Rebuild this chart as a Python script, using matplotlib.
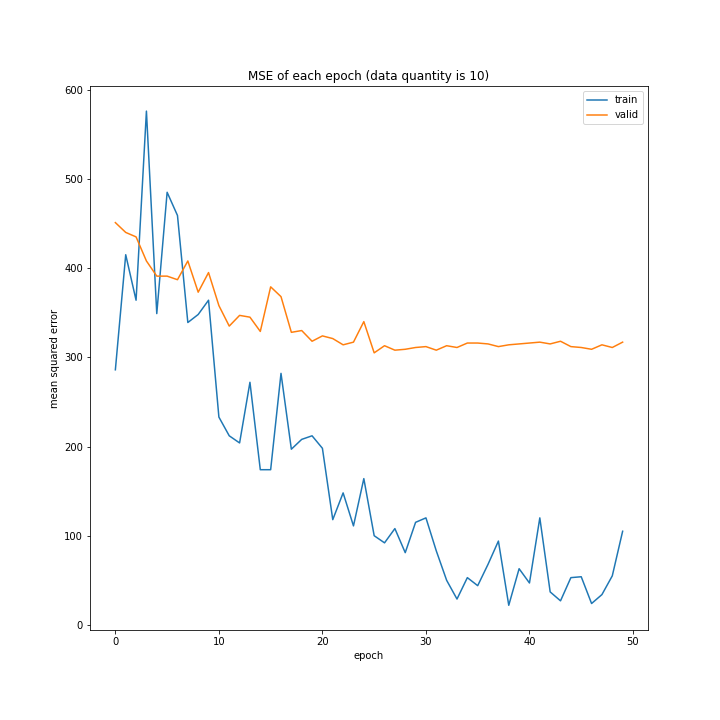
import numpy as np
import matplotlib
matplotlib.use('Agg')
import matplotlib.pyplot as plt

epochs = np.arange(50)

train_mse = [286, 415, 364, 576, 349, 485, 459, 339, 348, 364,
             233, 212, 204, 272, 174, 174, 282, 197, 208, 212,
             198, 118, 148, 111, 164, 100, 92, 108, 81, 115,
             120, 83, 50, 29, 53, 44, 68, 94, 22, 63,
             47, 120, 37, 27, 53, 54, 24, 34, 55, 105]

valid_mse = [451, 440, 435, 408, 391, 391, 387, 408, 373, 395,
             358, 335, 347, 345, 329, 379, 368, 328, 330, 318,
             324, 321, 314, 317, 340, 305, 313, 308, 309, 311,
             312, 308, 313, 311, 316, 316, 315, 312, 314, 315,
             316, 317, 315, 318, 312, 311, 309, 314, 311, 317]

plt.figure(figsize=(10, 10), dpi=72)
plt.subplots_adjust(left=0.125, right=0.9, bottom=0.125, top=0.88)
plt.plot(epochs, train_mse, label='train')
plt.plot(epochs, valid_mse, label='valid')
plt.xlabel('epoch')
plt.ylabel('mean squared error')
plt.title('MSE of each epoch (data quantity is 10)')
plt.legend(loc='upper right')
plt.savefig('out.png', dpi=72)
